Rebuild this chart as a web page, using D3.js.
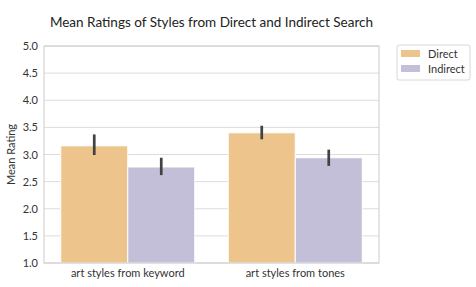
<!DOCTYPE html>
<html>
<head>
<meta charset="utf-8">
<script src="https://cdn.jsdelivr.net/npm/d3@7"></script>
<style>
  body { margin: 0; background: #fff; }
  text { font-family: Lato, "Open Sans", sans-serif; }
</style>
</head>
<body>
<div id="chart"></div>
<script>
// chart data
var categories = ["art styles from keyword", "art styles from tones"];
var seriesNames = ["Direct", "Indirect"];
var directMeans = [3.16, 3.40];
var indirectMeans = [2.77, 2.94];
var directCI = [[2.99, 3.37], [3.28, 3.53]];
var indirectCI = [[2.62, 2.94], [2.79, 3.09]];
var yTicks = [1.0, 1.5, 2.0, 2.5, 3.0, 3.5, 4.0, 4.5, 5.0];

var colors = ["#edc48c", "#c3bfd8"];

function createBarChart(divId) {
  var width = 476, height = 287;
  var left = 44, right = 379, top = 46, bottom = 263;

  var svg = d3.select("#" + divId).append("svg")
    .attr("width", width)
    .attr("height", height);

  // 1. scales
  var xScale = d3.scaleBand().domain(categories).range([left, right]).paddingInner(0.2).paddingOuter(0.1);
  var subScale = d3.scaleBand().domain(seriesNames).range([0, xScale.bandwidth()]);
  var yScale = d3.scaleLinear().domain([1, 5]).range([bottom, top]);

  // 2. grid
  svg.append("g").selectAll("line").data(yTicks).enter().append("line")
    .attr("x1", left).attr("x2", right)
    .attr("y1", function (d) { return yScale(d); })
    .attr("y2", function (d) { return yScale(d); })
    .attr("stroke", "#dcdcdc").attr("stroke-width", 1);

  // 3. bars
  var dataSet = [];
  for (var i = 0; i < categories.length; i++) {
    dataSet.push({cat: categories[i], s: "Direct", y: directMeans[i], ci: directCI[i], c: colors[0]});
    dataSet.push({cat: categories[i], s: "Indirect", y: indirectMeans[i], ci: indirectCI[i], c: colors[1]});
  }
  svg.append("g").selectAll("rect").data(dataSet).enter().append("rect")
    .attr("x", function (d) { return xScale(d.cat) + subScale(d.s); })
    .attr("width", subScale.bandwidth())
    .attr("y", function (d) { return yScale(d.y); })
    .attr("height", function (d) { return yScale(1) - yScale(d.y); })
    .attr("fill", function (d) { return d.c; })
    .attr("stroke", "#fff").attr("stroke-width", 1);

  // 4. error bars
  svg.append("g").selectAll("line").data(dataSet).enter().append("line")
    .attr("x1", function (d) { return xScale(d.cat) + subScale(d.s) + subScale.bandwidth() / 2; })
    .attr("x2", function (d) { return xScale(d.cat) + subScale(d.s) + subScale.bandwidth() / 2; })
    .attr("y1", function (d) { return yScale(d.ci[0]); })
    .attr("y2", function (d) { return yScale(d.ci[1]); })
    .attr("stroke", "#424242").attr("stroke-width", 2.7);

  // 5. frame
  svg.append("rect")
    .attr("x", left).attr("y", top)
    .attr("width", right - left).attr("height", bottom - top)
    .attr("fill", "none").attr("stroke", "#cccccc").attr("stroke-width", 1);

  // 6. axes
  var yAxis = d3.axisLeft(yScale).tickValues(yTicks).tickSize(0).tickPadding(6)
    .tickFormat(d3.format(".1f"));
  var gy = svg.append("g").attr("transform", "translate(" + left + ",0)").call(yAxis);
  gy.select(".domain").remove();
  gy.selectAll("text").attr("font-size", 11).attr("fill", "#333")
    .attr("font-family", "Lato, sans-serif");

  var xAxis = d3.axisBottom(xScale).tickSize(0).tickPadding(6);
  var gx = svg.append("g").attr("transform", "translate(0," + bottom + ")").call(xAxis);
  gx.select(".domain").remove();
  gx.selectAll("text").attr("font-size", 11).attr("fill", "#333")
    .attr("font-family", "Lato, sans-serif");

  // 7. labels
  svg.append("text")
    .attr("x", (left + right) / 2).attr("y", 27)
    .attr("text-anchor", "middle").attr("font-size", 13.5).attr("fill", "#222")
    .text("Mean Ratings of Styles from Direct and Indirect Search");
  svg.append("text")
    .attr("transform", "translate(15," + (top + bottom) / 2 + ")rotate(-90)")
    .attr("text-anchor", "middle").attr("font-size", 11).attr("fill", "#333")
    .text("Mean Rating");

  // 8. legend
  var lg = svg.append("g").attr("transform", "translate(397,45)");
  lg.append("rect").attr("width", 73).attr("height", 35).attr("rx", 2)
    .attr("fill", "#fff").attr("stroke", "#d8d8d8");
  seriesNames.forEach(function (name, i) {
    lg.append("rect").attr("x", 4).attr("y", 5 + i * 15).attr("width", 19).attr("height", 7)
      .attr("fill", colors[i]);
    lg.append("text").attr("x", 31).attr("y", 12.5 + i * 15)
      .attr("font-size", 11).attr("fill", "#333").text(name);
  });
}

createBarChart("chart");
</script>
</body>
</html>
